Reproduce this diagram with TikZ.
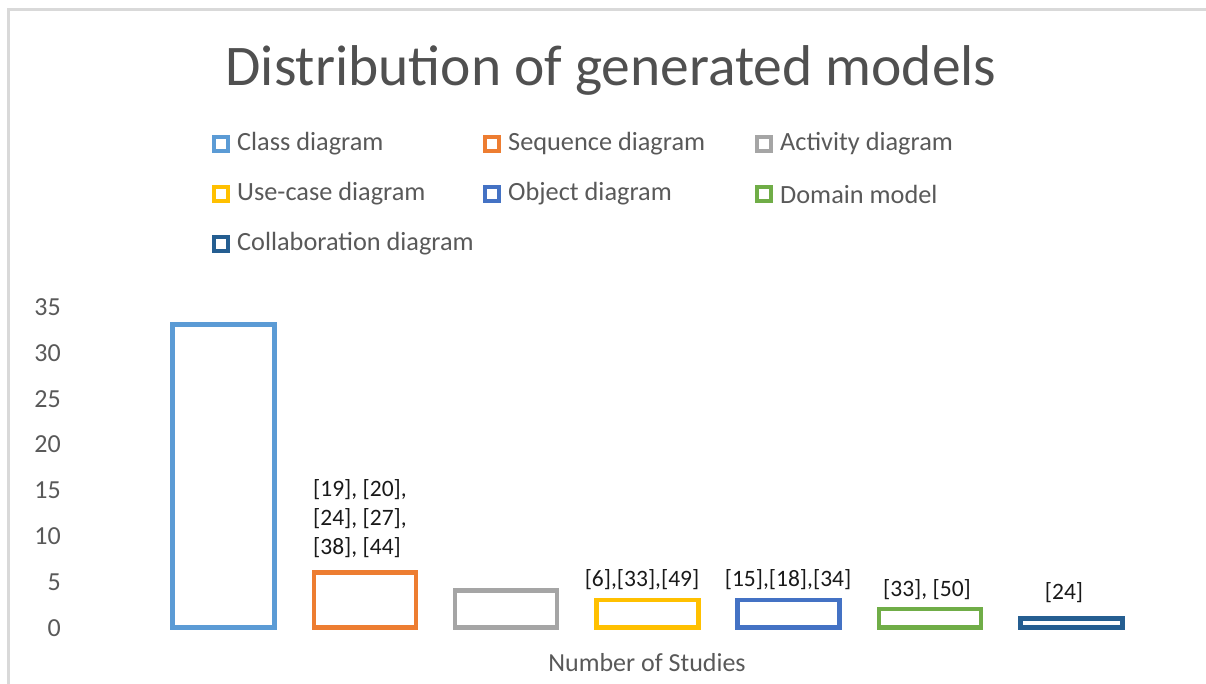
\documentclass[tikz,border=0pt]{standalone}
\usepackage{fontspec}
\setmainfont{Carlito}
\definecolor{cClass}{HTML}{5B9BD5}
\definecolor{cSeq}{HTML}{ED7D31}
\definecolor{cAct}{HTML}{A5A5A5}
\definecolor{cUse}{HTML}{FFC000}
\definecolor{cObj}{HTML}{4472C4}
\definecolor{cDom}{HTML}{70AD47}
\definecolor{cCol}{HTML}{255E91}
\definecolor{txtgray}{HTML}{595959}
\definecolor{titlegray}{HTML}{505050}
\definecolor{framegray}{HTML}{D9D9D9}
\tikzset{
  x=1pt, y=-1pt,
  bar/.style={line width=4.6pt, fill=white},
  legbox/.style={line width=3.8pt, fill=white, minimum size=14.5pt, inner sep=0pt},
  legtext/.style={anchor=west, inner sep=0pt, text=txtgray, font=\fontsize{26.3}{30}\selectfont},
  tick/.style={anchor=base east, inner sep=0pt, text=txtgray, font=\fontsize{26}{30}\selectfont},
  reflabel/.style={anchor=base, inner sep=0pt, text=black!90, font=\fontsize{23.5}{29}\selectfont, align=left}
}
\begin{document}
\begin{tikzpicture}
\useasboundingbox (0,0) rectangle (1206,684);
% chart frame
\draw[framegray, line width=3pt] (8.5,690) -- (8.5,9.5) -- (1215,9.5);

% title
\node[anchor=base, inner sep=0pt, text=titlegray, font=\fontsize{57.5}{64}\selectfont] (title) at (611,86) {Distribution of generated models};

% legend
\foreach \c/\t/\x/\y [count=\i] in {
  cClass/Class diagram/221/144,
  cSeq/Sequence diagram/492/144,
  cAct/Activity diagram/764/144,
  cUse/Use-case diagram/221/194,
  cObj/Object diagram/492/194,
  cDom/Domain model/764/194,
  cCol/Collaboration diagram/221/244} {
  \node[legbox, draw=\c] (lk\i) at (\x,\y) {};
  \node[legtext] (lt\i) at (\x+16,\y) {\t};
}

% value axis
\foreach \v in {0,5,...,35} {
  \node[tick] (tk\v) at (61,627.5-9.18*\v+9) {\v};
}

% bars
\foreach \c/\v [count=\i] in {cClass/33, cSeq/6, cAct/4, cUse/3, cObj/3, cDom/2, cCol/1} {
  \pgfmathsetmacro{\cx}{223.5+141.3*(\i-1)}
  \draw[bar, draw=\c] (\cx-51,627.5) rectangle (\cx+51,627.5-9.18*\v);
}

% reference labels
\node[reflabel, anchor=base west] (l2a) at (313,496) {[19], [20],};
\node[reflabel, anchor=base west] (l2b) at (313,525) {[24], [27],};
\node[reflabel, anchor=base west] (l2c) at (313,554) {[38], [44]};
\node[reflabel] (l4) at (642,586) {[6],[33],[49]};
\node[reflabel] (l5) at (788,586) {[15],[18],[34]};
\node[reflabel] (l6) at (927,596) {[33], [50]};
\node[reflabel] (l7) at (1064,599) {[24]};

% axis title
\node[anchor=base, inner sep=0pt, text=txtgray, font=\fontsize{26}{30}\selectfont] (axt) at (647,671) {Number of Studies};
\end{tikzpicture}
\end{document}
